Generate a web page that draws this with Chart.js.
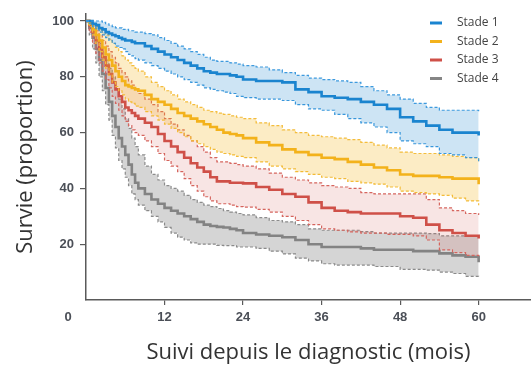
<!DOCTYPE html>
<html>
<head>
<meta charset="utf-8">
<script src="https://cdn.jsdelivr.net/npm/chart.js@4.4.1/dist/chart.umd.min.js"></script>
<style>
  html, body { margin: 0; padding: 0; background: #fff; }
  #wrap { width: 531px; height: 369px; }
</style>
</head>
<body>
<div id="wrap"><canvas id="chart"></canvas></div>
<script>
// mois de suivi (points des courbes en escalier)
const months = [0, 0.5, 1, 1.5, 2, 2.5, 3, 3.5, 4, 4.5, 5, 5.5, 6, 6.5, 7, 7.5, 8,
  9, 10, 11, 12, 13, 14, 15, 16, 17, 18, 19, 20, 21, 22, 23, 24,
  26, 28, 30, 32, 34, 36, 38, 40, 42, 44, 46, 48, 50, 52, 54, 56, 58, 60]
const xTicks = [12, 24, 36, 48, 60]
const yTicks = [20, 40, 60, 80, 100]

const stageLabels = ['Stade 1', 'Stade 2', 'Stade 3', 'Stade 4']

const stade1 = [100, 100, 99, 98.5, 97.5, 97, 96, 95.5, 95, 94.5, 94, 93.5, 93, 93, 92.5, 92, 92,
  91, 90, 89, 88, 87, 86, 85, 84, 83, 82, 81.5, 81, 81, 80.5, 80, 79,
  78.5, 78.5, 78, 75.5, 74.5, 73, 72.5, 72, 71, 70, 68.5, 65.5, 64, 62.5, 61, 60, 60, 59]
const stade1Haut = [100, 100, 100, 100, 100, 99.5, 99, 98.5, 98, 97.5, 97.5, 97, 97, 96.5, 96.5, 96, 96,
  95.5, 95, 94, 93, 92, 91, 90, 89, 88, 87, 86, 85.5, 85.5, 85, 84.5, 84,
  83.5, 82.5, 81.5, 80.5, 79.5, 79, 78.5, 78, 76.5, 75, 73.5, 72, 70.5, 69, 68, 68, 68, 67]
const stade1Bas = [100, 99, 98, 97, 96, 95, 94, 93, 92, 91, 90.5, 90, 89, 88, 87.5, 86.5, 86,
  85, 84, 83, 82, 81, 80, 79, 78, 77, 76, 75.5, 75, 74.5, 74, 73, 72.5,
  72, 72, 71.5, 70, 68.5, 68, 66.5, 65, 63.5, 62, 60, 57, 56, 55, 52.5, 52, 51, 49.5]

const stade2 = [100, 99, 97, 95, 93, 90.5, 88, 86, 84, 82, 80, 78.5, 77, 76.5, 76, 75.5, 75,
  73.5, 72, 71, 70, 68.5, 67, 66, 65, 64, 63, 62, 61, 60, 59.5, 59, 58,
  56.5, 55.5, 54, 53, 52, 51, 50.5, 49.5, 48.5, 47.5, 46.5, 45, 44.5, 44.5, 44, 43.5, 43.5, 41.5]
const stade2Haut = [100, 100, 99, 98, 97, 96, 95, 93.5, 92, 90.5, 89, 87.5, 86, 85, 84, 83, 82,
  80, 78, 76.5, 75, 73.5, 72, 71, 70, 69, 68, 67.5, 67, 66.5, 66, 65.5, 65,
  63.5, 62.5, 61, 60, 59, 58.5, 58, 57.5, 56.5, 55.5, 54.5, 53, 52.5, 52.5, 52, 51.5, 51, 49.5]
const stade2Bas = [100, 98, 95, 92, 89, 86, 83, 80.5, 78, 76.5, 75, 73.5, 72, 71, 70.5, 69.5, 69,
  67.5, 66, 64.5, 63, 61.5, 60, 58.5, 57, 56, 55, 54, 53, 52.5, 52, 51.5, 51,
  49.5, 48, 47, 46, 45, 44, 43.5, 42.5, 42, 41.5, 40.5, 39, 38.5, 38, 37.5, 36.5, 35.5, 34]

const stade3 = [100, 98.5, 96, 93, 90, 87, 84, 81, 78, 75.5, 73, 71, 69, 68, 67, 66, 65,
  63.5, 62, 59.5, 57, 55, 53, 51, 49, 47.5, 46, 44, 42.5, 42.5, 42, 42, 41.8,
  40.5, 39.5, 38, 37, 35, 33, 32, 31.5, 31, 31, 31, 30, 29.5, 27, 25, 24, 23, 22]
const stade3Haut = [100, 99.5, 98, 96.5, 95, 93, 91, 89, 87, 85, 83, 81.5, 80, 78.5, 77, 75.5, 74,
  72, 70, 67.5, 65, 63, 61, 59, 57, 55, 53, 51, 49.5, 49.5, 49, 48.5, 48,
  47, 45.5, 44, 43, 42, 41, 40.5, 40, 38.5, 38, 38, 38, 38, 36, 33, 32, 31, 30.5]
const stade3Bas = [100, 96, 92, 88.5, 85, 82, 79, 76, 73, 70.5, 68, 66, 64, 62.5, 61, 60, 59,
  57, 55, 52.5, 50, 48, 46, 43.5, 41, 39, 37, 35.5, 34.5, 34.5, 34, 33.5, 33.3,
  32.5, 31.5, 30, 28.5, 27, 25.5, 25, 24.4, 24, 24, 23.5, 23.5, 23, 21.5, 18, 17, 16, 15]

const stade4 = [100, 97.5, 94, 90, 86, 81, 76, 71, 66, 62, 58, 55, 52, 48.5, 45, 42, 40,
  38, 36, 34.5, 33, 32, 31, 30, 29, 28, 27, 26.5, 26.2, 26, 25.5, 25, 24,
  23.5, 23, 22.5, 21.5, 20, 19, 19, 19, 18.5, 18, 18, 18, 17.5, 17.5, 16.7, 16, 15.5, 13.5]
const stade4Haut = [100, 99, 97, 95, 92, 89, 86, 83, 80, 76, 72, 68.5, 65, 61.5, 58, 55, 52,
  48, 45, 43, 41, 40, 39, 37.5, 36, 35, 34, 33.5, 32.8, 32, 31.5, 31, 30.5,
  29.5, 28.5, 28, 27, 25.5, 25, 25, 25, 24.5, 24, 24, 24, 24, 23.8, 23, 23, 23, 22.5]
const stade4Bas = [100, 95, 90, 85, 80, 75, 70, 64.5, 59, 54.5, 50, 47, 44, 41, 38, 36, 34,
  32, 30, 28, 26, 24, 22.5, 21.5, 20.5, 20, 20, 20, 19.6, 19.5, 19.5, 19, 19,
  18.5, 17.5, 16.5, 15, 14, 13, 12.5, 12.5, 12.5, 12, 12, 11, 11, 10.7, 10, 9.5, 8.5, 8]

const colors = ['#1a84d0', '#f3b21c', '#cf5048', '#858585']
const dashColors = ['#3d9ade', '#f4bd3c', '#d6665f', '#8c8c8c']
const bands = ['rgba(28,131,207,0.22)', 'rgba(242,179,24,0.25)', 'rgba(207,80,73,0.15)', 'rgba(128,128,128,0.33)']

const tickFont = { family: "'Liberation Sans Narrow', 'Liberation Sans', Arial, sans-serif", size: 13, weight: 'bold' }
const tickColor = '#4b4f57'
const axisColor = '#5a5a5a'

function pts(values) {
  return values.map((v, i) => ({ x: months[i], y: v }))
}

function stage(i, main, upper, lower) {
  return [
    {
      label: stageLabels[i] + ' haut',
      data: pts(upper),
      borderColor: dashColors[i],
      borderWidth: 1.2,
      borderDash: [3, 2],
      backgroundColor: bands[i],
      fill: '+1',
      stepped: true,
      pointRadius: 0
    },
    {
      label: stageLabels[i] + ' bas',
      data: pts(lower),
      borderColor: dashColors[i],
      borderWidth: 1.2,
      borderDash: [3, 2],
      fill: false,
      stepped: true,
      pointRadius: 0
    },
    {
      label: stageLabels[i],
      data: pts(main),
      borderColor: colors[i],
      borderWidth: 2.6,
      fill: false,
      stepped: true,
      pointRadius: 0
    }
  ]
}

const datasets = [
  ...stage(0, stade1, stade1Haut, stade1Bas),
  ...stage(1, stade2, stade2Haut, stade2Bas),
  ...stage(2, stade3, stade3Haut, stade3Bas),
  ...stage(3, stade4, stade4Haut, stade4Bas)
]

// legende et "0" de l'origine
const extras = {
  id: 'extras',
  afterDraw(chart) {
    const ctx = chart.ctx
    const x = chart.scales.x
    ctx.save()
    ctx.font = `bold ${tickFont.size}px ${tickFont.family}`
    ctx.fillStyle = tickColor
    ctx.textAlign = 'center'
    ctx.textBaseline = 'middle'
    ctx.fillText('0', x.left - 18, 317)

    ctx.font = "12px 'Open Sans', sans-serif"
    ctx.fillStyle = '#444'
    ctx.textAlign = 'left'
    stageLabels.forEach((lab, i) => {
      const y = 23 + i * 18.5
      ctx.strokeStyle = colors[i]
      ctx.lineWidth = 3
      ctx.beginPath()
      ctx.moveTo(430, y)
      ctx.lineTo(442, y)
      ctx.stroke()
      ctx.fillText(lab, 457, y)
    })
    ctx.restore()
  }
}

new Chart(document.getElementById('chart'), {
  type: 'line',
  data: { datasets },
  plugins: [extras],
  options: {
    responsive: true,
    maintainAspectRatio: false,
    animation: false,
    layout: { padding: { top: 14, right: 0, left: 0, bottom: 0 } },
    plugins: {
      legend: { display: false },
      tooltip: { enabled: false }
    },
    scales: {
      x: {
        type: 'linear',
        min: 0,
        max: 68,
        afterBuildTicks: (s) => { s.ticks = xTicks.map(v => ({ value: v })) },
        afterFit: (s) => { s.height = 69 },
        border: { color: axisColor, width: 1.5 },
        grid: { drawOnChartArea: false, color: axisColor, tickLength: 5, lineWidth: 1.2 },
        ticks: { font: tickFont, color: tickColor, padding: 5, maxRotation: 0 },
        title: {
          display: true,
          text: 'Suivi depuis le diagnostic (mois)',
          font: { family: "'Open Sans', sans-serif", size: 22 },
          color: '#333',
          padding: { top: 0, bottom: 3 }
        }
      },
      y: {
        min: 0,
        max: 102.5,
        afterBuildTicks: (s) => { s.ticks = yTicks.map(v => ({ value: v })) },
        afterFit: (s) => { s.width = 86 },
        border: { color: axisColor, width: 1.5 },
        grid: { drawOnChartArea: false, color: axisColor, tickLength: 6, lineWidth: 1.2 },
        ticks: { font: tickFont, color: tickColor, padding: 6 },
        title: {
          display: true,
          text: 'Survie (proportion)',
          font: { family: "'Open Sans', sans-serif", size: 22 },
          color: '#333',
          padding: { top: 13, bottom: 0 }
        }
      }
    }
  }
})
</script>
</body>
</html>
